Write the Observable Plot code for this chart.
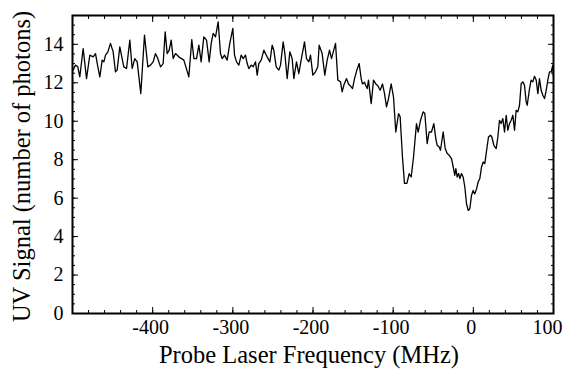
<!DOCTYPE html>
<html><head><meta charset="utf-8">
<script src="https://cdn.jsdelivr.net/npm/d3@7"></script>
<script src="https://cdn.jsdelivr.net/npm/@observablehq/plot@0.6"></script>
<style>
body{margin:0;background:#fff;}
</style></head><body><div id="chart"></div>
<script>
// Probe laser frequency (MHz)
const freq = [
-499.2,-496.3,-493.4,-490.9,-486.7,-482.5,-478.4,-474.2,-471.3,-468.4,-465.9,-463.0,-460.9,-458.8,-455.9,-452.6,-449.3,-446.4,-444.3,-441.0,
-436.0,-432.6,-428.5,-425.6,-422.3,-419.3,-414.8,-410.2,-406.0,-402.7,-399.4,-396.5,-393.6,-390.2,-386.9,-384.4,-381.9,-379.4,-376.9,-374.4,
-371.5,-367.4,-361.1,-354.9,-351.2,-348.6,-345.3,-342.4,-339.5,-336.2,-332.8,-329.5,-327.0,-324.5,-321.6,-318.3,-315.4,-313.3,-310.4,-307.1,
-303.8,-300.0,-297.9,-295.4,-292.5,-289.6,-287.1,-284.2,-282.1,-280.0,-277.1,-274.6,-271.7,-269.6,-267.6,-264.6,-261.3,-259.3,-257.2,-253.8,
-250.9,-248.9,-245.9,-242.6,-240.5,-237.2,-235.1,-232.2,-228.9,-226.0,-223.9,-220.6,-217.7,-214.8,-210.6,-208.1,-205.2,-203.1,-200.2,-196.9,
-194.0,-192.3,-188.6,-185.3,-182.3,-179.4,-176.9,-171.9,-169.0,-165.7,-163.6,-161.5,-158.2,-155.7,-153.6,-150.7,-148.2,-145.3,-142.4,-139.9,
-138.3,-135.8,-134.1,-132.4,-130.8,-127.4,-124.5,-121.6,-119.1,-116.2,-113.3,-110.8,-108.3,-105.8,-102.5,-99.6,-96.7,-93.3,-91.3,-88.4,
-85.9,-82.9,-80.0,-77.5,-74.6,-70.9,-68.8,-65.9,-62.6,-60.5,-57.6,-55.1,-52.2,-49.3,-46.8,-45.1,-42.6,-41.0,-37.6,-35.1,
-32.6,-30.1,-27.2,-25.1,-23.1,-21.8,-20.2,-18.5,-16.8,-14.8,-12.7,-10.6,-8.5,-6.4,-4.4,-2.3,-0.2,1.9,4.0,6.0,
8.1,10.2,12.3,14.3,16.0,18.9,21.4,23.1,25.6,28.5,30.6,32.6,34.7,36.8,38.9,41.0,43.0,45.1,47.2,49.3,
51.4,53.4,55.5,57.6,59.7,61.8,63.8,65.9,67.2,70.1,72.1,74.2,76.3,78.4,80.5,82.5,84.6,86.7,88.8,90.9,
92.9,95.0,97.1,99.0,100.0
];
// UV signal (number of photons)
const signal = [
12.66,12.92,12.83,12.31,13.78,12.22,13.44,13.35,13.52,12.83,12.31,13.18,13.09,13.44,13.61,14.05,13.61,12.57,12.66,13.87,
12.83,12.74,14.22,12.74,13.26,13.09,11.44,14.48,12.83,12.92,13.09,13.52,13.26,12.83,13.00,14.65,13.52,13.70,14.22,13.26,
13.52,13.35,13.18,12.31,14.25,13.26,13.26,13.96,13.09,14.39,14.22,13.09,14.05,14.57,14.39,15.17,13.52,13.26,13.44,13.18,
14.05,14.83,13.44,13.09,12.92,13.44,13.26,13.44,13.00,12.74,12.92,12.83,13.09,12.40,13.00,13.18,13.70,13.52,13.35,13.09,
13.96,13.70,12.83,12.66,12.92,14.13,13.52,12.22,13.61,13.26,12.22,13.09,12.48,13.18,14.13,13.26,13.09,13.44,12.40,12.57,
12.83,13.96,13.52,12.40,13.18,13.70,13.26,14.05,12.14,12.05,11.53,11.88,12.22,11.94,11.85,11.70,12.22,12.66,13.00,12.22,
11.94,12.03,11.85,11.70,12.14,10.92,12.14,11.94,11.85,11.61,11.94,11.44,10.75,11.18,11.94,11.27,9.44,10.40,10.23,8.14,
6.77,6.77,7.27,7.10,8.14,9.88,9.44,10.05,10.49,10.40,8.84,9.44,9.44,9.88,9.10,8.75,8.66,8.49,9.44,8.58,
8.32,8.23,8.06,7.62,7.19,7.54,7.10,7.28,7.02,7.28,7.10,6.58,5.71,5.36,5.45,6.14,6.40,6.22,6.48,6.84,
7.02,7.62,7.88,7.80,8.32,9.18,9.27,9.18,8.75,8.58,9.18,10.05,9.88,10.14,9.44,10.31,9.53,9.88,10.05,10.31,
9.53,10.57,10.49,10.83,11.96,12.05,11.88,11.01,10.83,11.70,12.14,12.05,12.34,12.14,11.44,12.22,11.61,11.35,11.18,11.61,
12.14,12.57,12.57,12.90,12.30
];
const xMajorTicks = [-400, -300, -200, -100, 0, 100];
const yMajorTicks = [0, 2, 4, 6, 8, 10, 12, 14];
const xDomain = [-500, 100];
const yDomain = [0, 15.5];
const xTitle = "Probe Laser Frequency (MHz)";
const yTitle = "UV Signal (number of photons)";

const xMinorTicks = d3.range(-500, 101, 20);
const yMinorTicks = d3.range(0, 15.5, 0.5);
const data = freq.map((f, i) => ({f, s: signal[i]}));
const xInnerLabels = xMajorTicks.slice(0, -1);
const xLastLabel = xMajorTicks.slice(-1);

const blank = () => "";
const fmt = d => String(d);
const chart = Plot.plot({
  width: 565,
  height: 375,
  marginLeft: 72,
  marginRight: 12,
  marginTop: 15,
  marginBottom: 62,
  style: {fontFamily: "'Liberation Serif', 'Times New Roman', serif", color: "#000", background: "#fff"},
  x: {domain: xDomain},
  y: {domain: yDomain},
  marks: [
    Plot.line(data, {x: "f", y: "s", stroke: "black", strokeWidth: 1.3}),
    // bottom axis
    Plot.axisX({anchor: "bottom", ticks: xMajorTicks, tickSize: -6, tickFormat: blank, label: null}),
    Plot.axisX({anchor: "bottom", ticks: xInnerLabels, tickSize: 0, tickPadding: 6, tickFormat: fmt, fontSize: 20, dx: -2, label: null}),
    Plot.axisX({anchor: "bottom", ticks: xLastLabel, tickSize: 0, tickPadding: 6, tickFormat: fmt, fontSize: 20, dx: -6, label: null}),
    Plot.axisX({anchor: "bottom", ticks: xMinorTicks, tickSize: -3, tickFormat: blank, label: null}),
    // top axis
    Plot.axisX({anchor: "top", ticks: xMajorTicks, tickSize: -6, tickFormat: blank, label: null}),
    Plot.axisX({anchor: "top", ticks: xMinorTicks, tickSize: -3, tickFormat: blank, label: null}),
    // left axis
    Plot.axisY({anchor: "left", ticks: yMajorTicks, tickSize: -6, tickFormat: blank, label: null}),
    Plot.axisY({anchor: "left", ticks: yMajorTicks, tickSize: 0, tickPadding: 9, tickFormat: fmt, fontSize: 20, label: null}),
    Plot.axisY({anchor: "left", ticks: yMinorTicks, tickSize: -3, tickFormat: blank, label: null}),
    // right axis
    Plot.axisY({anchor: "right", ticks: yMajorTicks, tickSize: -6, tickFormat: blank, label: null}),
    Plot.axisY({anchor: "right", ticks: yMinorTicks, tickSize: -3, tickFormat: blank, label: null}),
    Plot.frame({stroke: "black", strokeWidth: 2}),
    // axis titles
    Plot.text([xTitle], {text: d => d, frameAnchor: "bottom", lineAnchor: "middle", textAnchor: "middle", dx: -4, dy: 42, fontSize: 24.5, fill: "black"}),
    Plot.text([yTitle], {text: d => d, frameAnchor: "left", lineAnchor: "middle", textAnchor: "middle", dx: -50, dy: 2, rotate: -90, fontSize: 24.5, fill: "black"})
  ]
});
document.getElementById("chart").appendChild(chart);
</script>
</body></html>
